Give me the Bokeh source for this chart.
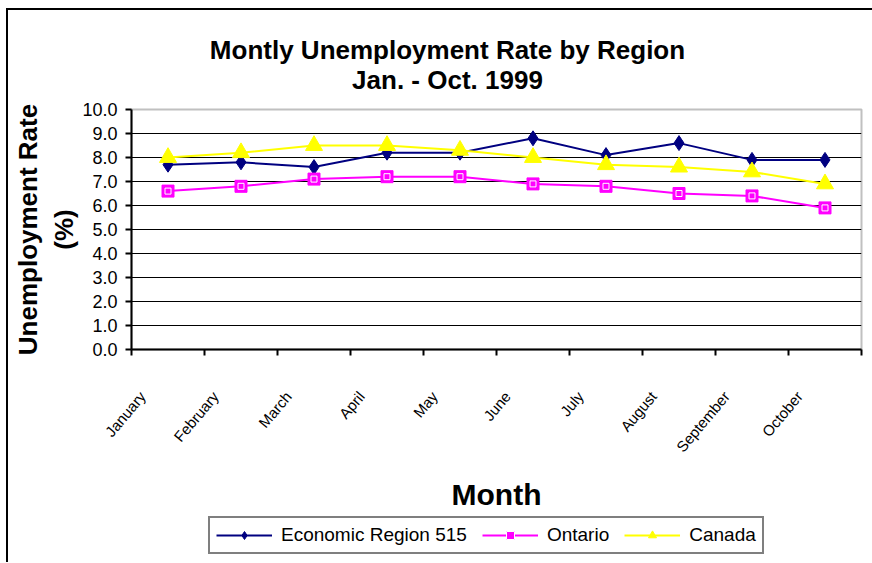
import math
from bokeh.plotting import figure
from bokeh.models import (Range1d, FixedTicker, NumeralTickFormatter, Legend,
                          LegendItem, Label, ColumnDataSource)
from bokeh.layouts import column
from bokeh.embed import file_html
from bokeh.resources import INLINE

# ---- data ----
months = ["January", "February", "March", "April", "May", "June",
          "July", "August", "September", "October"]
er515 = [7.7, 7.8, 7.6, 8.2, 8.2, 8.8, 8.1, 8.6, 7.9, 7.9]
ontario = [6.6, 6.8, 7.1, 7.2, 7.2, 6.9, 6.8, 6.5, 6.4, 5.9]
canada = [8.0, 8.2, 8.5, 8.5, 8.3, 8.0, 7.7, 7.6, 7.4, 6.9]
y_ticks = [0, 1, 2, 3, 4, 5, 6, 7, 8, 9, 10]
title_lines = ["Montly Unemployment Rate by Region", "Jan. - Oct. 1999"]
series_names = ["Economic Region 515", "Ontario", "Canada"]

xpos = list(range(1, len(months) + 1))
src = ColumnDataSource(dict(x=xpos, er=er515, on=ontario, ca=canada))

FONT = "Liberation Sans"
W = 864
BL, BR = 123, 11         # left / right borders -> plot frame 730 px wide
FW = W - BL - BR
LABEL_SHIFT = 0.35       # rotated month names sit left of the category centre

def strip(height):
    f = figure(width=W, height=height, x_range=Range1d(0, FW),
               y_range=Range1d(0, height), output_backend="svg",
               toolbar_location=None, min_border_left=BL, min_border_right=BR,
               min_border_top=0, min_border_bottom=0)
    f.axis.visible = False
    f.grid.visible = False
    f.outline_line_color = None
    f.background_fill_color = "white"
    f.border_fill_color = "white"
    return f

# ---- title strip ----
tf = strip(86)
for txt, yy in zip(title_lines, [47, 17]):
    tf.add_layout(Label(x=316, y=yy, text=txt, text_align="center",
                        text_baseline="middle", text_font=FONT,
                        text_font_size="26px", text_font_style="bold",
                        text_color="black"))

# ---- main chart ----
p = figure(width=W, height=417, x_range=Range1d(0.5, len(months) + 0.5),
           y_range=Range1d(y_ticks[0], y_ticks[-1]),
           output_backend="svg", toolbar_location=None,
           min_border_left=BL, min_border_right=BR,
           min_border_top=13, min_border_bottom=162)
p.background_fill_color = "white"
p.border_fill_color = "white"
p.outline_line_color = "#c0c0c0"
p.outline_line_width = 2

p.xgrid.visible = False
p.ygrid.ticker = FixedTicker(ticks=y_ticks[1:-1])
p.ygrid.grid_line_color = "black"
p.ygrid.grid_line_width = 1

ya = p.yaxis[0]
ya.ticker = FixedTicker(ticks=y_ticks)
ya.formatter = NumeralTickFormatter(format="0.0")
ya.axis_line_width = 2
ya.axis_line_color = "black"
ya.major_tick_out = 6
ya.major_tick_in = 0
ya.major_tick_line_width = 2
ya.minor_tick_line_color = None
ya.major_label_text_font = FONT
ya.major_label_text_font_size = "18px"
ya.major_label_text_color = "black"
ya.major_label_standoff = 8
ya.axis_label = "Unemployment Rate\n(%)"
ya.axis_label_text_font = FONT
ya.axis_label_text_font_size = "26px"
ya.axis_label_text_font_style = "bold"
ya.axis_label_text_color = "black"
ya.axis_label_standoff = 0

label_pos = [x - LABEL_SHIFT for x in xpos]
xa = p.xaxis[0]
xa.ticker = FixedTicker(ticks=label_pos,
                        minor_ticks=[x - 0.5 for x in xpos] + [xpos[-1] + 0.5])
xa.major_label_overrides = {lp: m for lp, m in zip(label_pos, months)}
xa.axis_line_width = 2
xa.axis_line_color = "black"
xa.major_tick_out = 0
xa.major_tick_in = 0
xa.minor_tick_out = 6
xa.minor_tick_in = 0
xa.minor_tick_line_width = 2
xa.minor_tick_line_color = "black"
xa.major_label_orientation = math.radians(50)
xa.major_label_text_font = FONT
xa.major_label_text_font_size = "15px"
xa.major_label_text_color = "black"
xa.major_label_standoff = 38
xa.axis_label = "Month"
xa.axis_label_text_font = FONT
xa.axis_label_text_font_size = "30px"
xa.axis_label_text_font_style = "bold"
xa.axis_label_text_color = "black"
xa.axis_label_standoff = 14

def draw_series(f):
    r1 = f.line("x", "er", source=src, line_color="#000080", line_width=2)
    s1 = f.scatter("x", "er", source=src, marker="diamond", size=15,
                   fill_color="#000080", line_color="#000080")
    r2 = f.line("x", "on", source=src, line_color="#FF00FF", line_width=2)
    s2 = f.scatter("x", "on", source=src, marker="square", size=12,
                   fill_color="#FF00FF", line_color="#FF00FF")
    s2b = f.scatter("x", "on", source=src, marker="square", size=6,
                    fill_color=None, line_color="white", line_width=1)
    r3 = f.line("x", "ca", source=src, line_color="#FFFF00", line_width=2)
    s3 = f.scatter("x", "ca", source=src, marker="triangle", size=17,
                   fill_color="#FFFF00", line_color="#FFFF00")
    return [[r1, s1], [r2, s2, s2b], [r3, s3]]

draw_series(p)

# ---- legend strip (series glyphs lie outside its view; only the key shows) ----
lf = strip(49)
lf.y_range = Range1d(100, 149)
groups = draw_series(lf)
legend = Legend(items=[LegendItem(label=n, renderers=g)
                       for n, g in zip(series_names, groups)],
                orientation="horizontal", location=(77, 8))
legend.label_text_font = FONT
legend.label_text_font_size = "19px"
legend.label_text_color = "black"
legend.glyph_width = 56
legend.glyph_height = 20
legend.label_standoff = 9
legend.spacing = 15
legend.padding = 6
legend.margin = 0
legend.border_line_color = "black"
legend.border_line_width = 2
legend.background_fill_color = "white"
legend.background_fill_alpha = 1
lf.add_layout(legend)

layout = column(tf, p, lf, spacing=0,
                styles={"margin-left": "6px", "margin-top": "8px",
                        "border-left": "2px solid black",
                        "border-top": "2px solid black"})

open("out.html", "w").write(file_html(layout, INLINE))
